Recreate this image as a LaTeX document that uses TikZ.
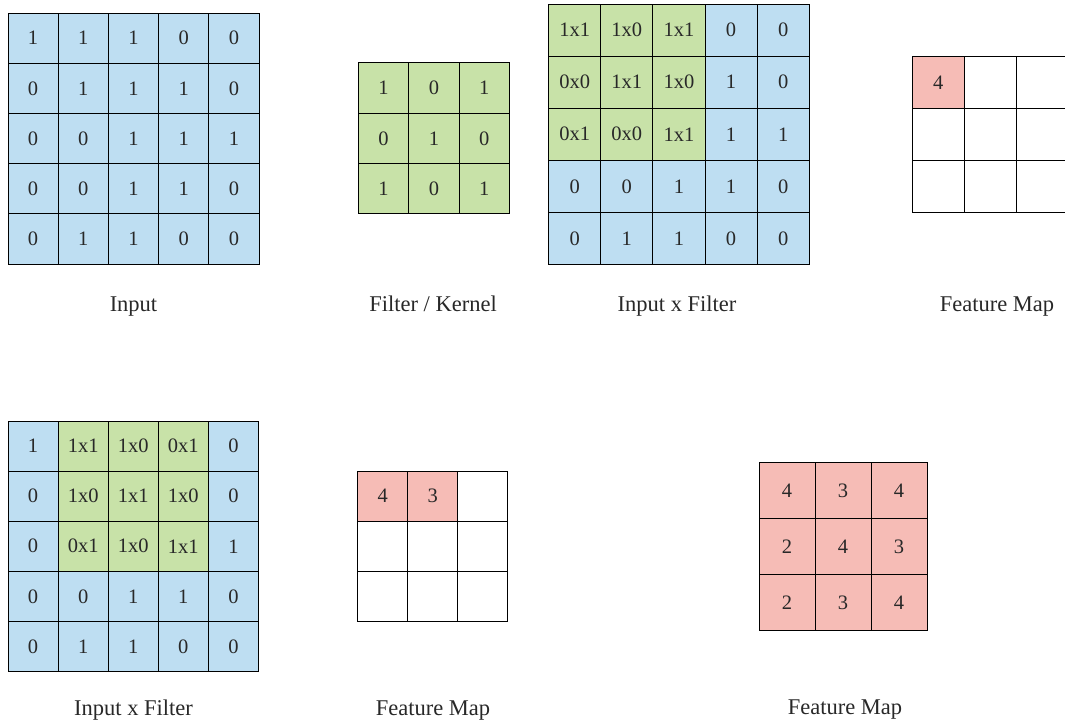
\documentclass[tikz,border=0pt]{standalone}
\usepackage{fontspec}
\setmainfont{Liberation Serif}
\definecolor{bl}{RGB}{190,222,242}
\definecolor{gr}{RGB}{200,226,168}
\definecolor{pk}{RGB}{246,188,182}
\definecolor{txt}{RGB}{40,40,40}
\tikzset{
  cell/.style={draw=black,line width=1pt,inner sep=0pt,text=txt,font=\fontsize{20.5}{22}\selectfont},
  lbl/.style={font=\fontsize{22.5}{26}\selectfont,inner sep=0pt,anchor=base,text=txt}
}
\newcommand{\mkgrid}[6]{%
  \foreach \t/\col [count=\i from 0] in {#6} {
    \pgfmathtruncatemacro{\rr}{div(\i,#5)}
    \pgfmathtruncatemacro{\cc}{mod(\i,#5)}
    \node[cell,fill=\col,minimum width=#4pt,minimum height=#4pt] (#1-\rr-\cc) at ({#2+(\cc+0.5)*#4},{#3+(\rr+0.5)*#4}) {\t};
  }
}
\begin{document}
\begin{tikzpicture}[x=1pt,y=-1pt]
\useasboundingbox (0,0) rectangle (1065,726);
% Input
\mkgrid{in}{8}{13}{50.2}{5}{1/bl,1/bl,1/bl,0/bl,0/bl,
 0/bl,1/bl,1/bl,1/bl,0/bl,
 0/bl,0/bl,1/bl,1/bl,1/bl,
 0/bl,0/bl,1/bl,1/bl,0/bl,
 0/bl,1/bl,1/bl,0/bl,0/bl}
% Filter
\mkgrid{k}{358.3}{62.7}{50.4}{3}{1/gr,0/gr,1/gr,0/gr,1/gr,0/gr,1/gr,0/gr,1/gr}
% Input x Filter (top)
\mkgrid{m}{548.7}{4}{52.1}{5}{1x1/gr,1x0/gr,1x1/gr,0/bl,0/bl,
 0x0/gr,1x1/gr,1x0/gr,1/bl,0/bl,
 0x1/gr,0x0/gr,1x1/gr,1/bl,1/bl,
 0/bl,0/bl,1/bl,1/bl,0/bl,
 0/bl,1/bl,1/bl,0/bl,0/bl}
% Feature map (top)
\mkgrid{f}{912.3}{56.5}{51.9}{3}{4/pk,{}/white,{}/white,{}/white,{}/white,{}/white,{}/white,{}/white,{}/white}
% Input x Filter (bottom)
\mkgrid{n}{8}{421}{50.1}{5}{1/bl,1x1/gr,1x0/gr,0x1/gr,0/bl,
 0/bl,1x0/gr,1x1/gr,1x0/gr,0/bl,
 0/bl,0x1/gr,1x0/gr,1x1/gr,1/bl,
 0/bl,0/bl,1/bl,1/bl,0/bl,
 0/bl,1/bl,1/bl,0/bl,0/bl}
% Feature map (bottom middle)
\mkgrid{g}{357.7}{471}{50}{3}{4/pk,3/pk,{}/white,{}/white,{}/white,{}/white,{}/white,{}/white,{}/white}
% Feature map (bottom right)
\mkgrid{h}{759}{462.5}{56}{3}{4/pk,3/pk,4/pk,2/pk,4/pk,3/pk,2/pk,3/pk,4/pk}
% Labels
\node[lbl] (l1) at (133.5,311.5) {Input};
\node[lbl] (l2) at (433,311.5) {Filter / Kernel};
\node[lbl] (l3) at (677,311.5) {Input x Filter};
\node[lbl] (l4) at (997,311.5) {Feature Map};
\node[lbl] (l5) at (133.5,715) {Input x Filter};
\node[lbl] (l6) at (433,715) {Feature Map};
\node[lbl] (l7) at (845,714) {Feature Map};
\end{tikzpicture}
\end{document}
